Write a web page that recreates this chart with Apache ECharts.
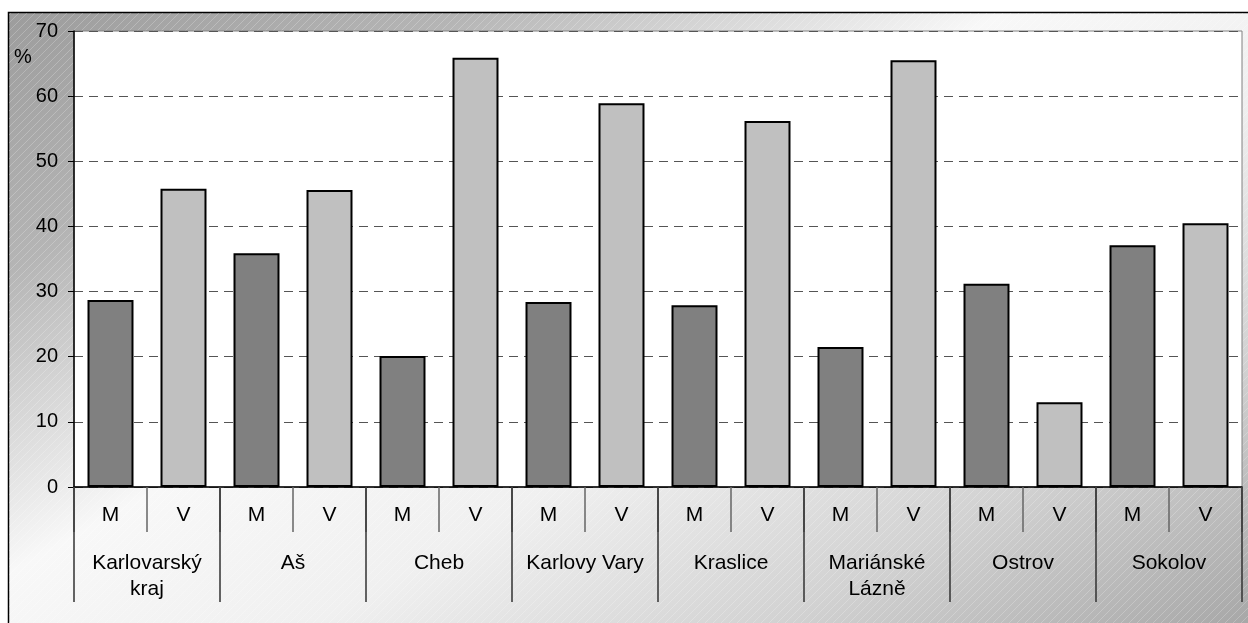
<!DOCTYPE html>
<html>
<head>
<meta charset="utf-8">
<script src="https://cdn.jsdelivr.net/npm/echarts@6/dist/echarts.min.js"></script>
<style>
    html, body { margin: 0; padding: 0; background: #fff; }
    #chart { width: 1248px; height: 623px; }
</style>
</head>
<body>
<div id="chart"></div>
<script>
// okresy + hodnoty (%)
const regions = ['Karlovarský\nkraj', 'Aš', 'Cheb', 'Karlovy Vary', 'Kraslice', 'Mariánské\nLázně', 'Ostrov', 'Sokolov']
const groups = ['M', 'V']
const mValues = [28.7, 35.9, 20.1, 28.4, 27.9, 21.5, 31.2, 37.1]
const vValues = [45.8, 45.6, 65.9, 58.9, 56.2, 65.5, 13.0, 40.5]
const yTicks = [0, 10, 20, 30, 40, 50, 60, 70]

const font = 'Liberation Sans, Arial, sans-serif'

onload = () => {
    let chartDom = document.getElementById('chart')
    let myChart = echarts.init(chartDom)
    let option

    // 16 kategorii M/V
    let cats = []
    let data = []
    regions.forEach((r, i) => {
        cats.push(groups[0])
        data.push({ value: mValues[i], itemStyle: { color: '#808080' } })
        cats.push(groups[1])
        data.push({ value: vValues[i], itemStyle: { color: '#c0c0c0' } })
    })

    // sraffovani pozadi
    let hatch = document.createElement('canvas')
    hatch.width = 8
    hatch.height = 8
    let ctx = hatch.getContext('2d')
    ctx.strokeStyle = 'rgba(255,255,255,0.22)'
    ctx.lineWidth = 1
    ctx.beginPath()
    ctx.moveTo(-2, 10); ctx.lineTo(10, -2)
    ctx.moveTo(-2, 2); ctx.lineTo(2, -2)
    ctx.moveTo(6, 10); ctx.lineTo(10, 6)
    ctx.stroke()

    option = {
        animation: false,
        textStyle: { fontFamily: font },
        graphic: [
            {
                type: 'rect', z: -10, silent: true,
                shape: { x: 8.5, y: 12.5, width: 1260, height: 630 },
                style: {
                    fill: new echarts.graphic.LinearGradient(8, 12, 566, 1003, [
                        { offset: 0, color: '#9c9c9c' },
                        { offset: 0.2, color: '#b5b5b5' },
                        { offset: 0.3, color: '#d3d3d3' },
                        { offset: 0.43, color: '#f8f8f8' },
                        { offset: 0.6, color: '#f0f0f0' },
                        { offset: 0.8, color: '#d2d2d2' },
                        { offset: 1, color: '#a8a8a8' }
                    ], true),
                    stroke: '#000', lineWidth: 1.5
                }
            },
            {
                type: 'rect', z: -9, silent: true,
                shape: { x: 9, y: 13, width: 1260, height: 630 },
                style: { fill: { image: hatch, repeat: 'repeat' } }
            },
            {
                type: 'text', left: 14, top: 47,
                style: { text: '%', fontSize: 20, fill: '#000', fontFamily: font }
            }
        ],
        grid: {
            left: 74, right: 6, top: 31, bottom: 136,
            show: true, backgroundColor: '#fff',
            borderColor: '#808080', borderWidth: 1
        },
        xAxis: [
            {
                type: 'category',
                data: cats,
                position: 'bottom',
                axisLine: { lineStyle: { color: '#000', width: 1.5 } },
                axisTick: { show: true, interval: 0, length: 45, lineStyle: { color: '#666', width: 1.5 } },
                axisLabel: { interval: 0, color: '#000', fontSize: 21, margin: 18, fontFamily: font }
            },
            {
                type: 'category',
                data: regions,
                position: 'bottom',
                offset: 0,
                axisLine: { show: false },
                axisTick: { show: true, interval: 0, length: 115, lineStyle: { color: '#333', width: 1.5 } },
                axisLabel: { interval: 0, color: '#000', fontSize: 21, margin: 63, lineHeight: 26, fontFamily: font }
            }
        ],
        yAxis: {
            type: 'value',
            min: yTicks[0],
            max: yTicks[yTicks.length - 1],
            interval: 10,
            axisLine: { show: true, lineStyle: { color: '#000', width: 1.5 } },
            axisTick: { show: true, length: 6, lineStyle: { color: '#000' } },
            axisLabel: { color: '#000', fontSize: 20, margin: 16, fontFamily: font },
            splitLine: { lineStyle: { color: '#555', type: [9, 6], width: 1 } }
        },
        series: [
            {
                type: 'bar',
                xAxisIndex: 0,
                data: data,
                barWidth: '63%',
                itemStyle: { borderColor: '#000', borderWidth: 2 }
            }
        ]
    }

    option && myChart.setOption(option)
}
</script>
</body>
</html>
